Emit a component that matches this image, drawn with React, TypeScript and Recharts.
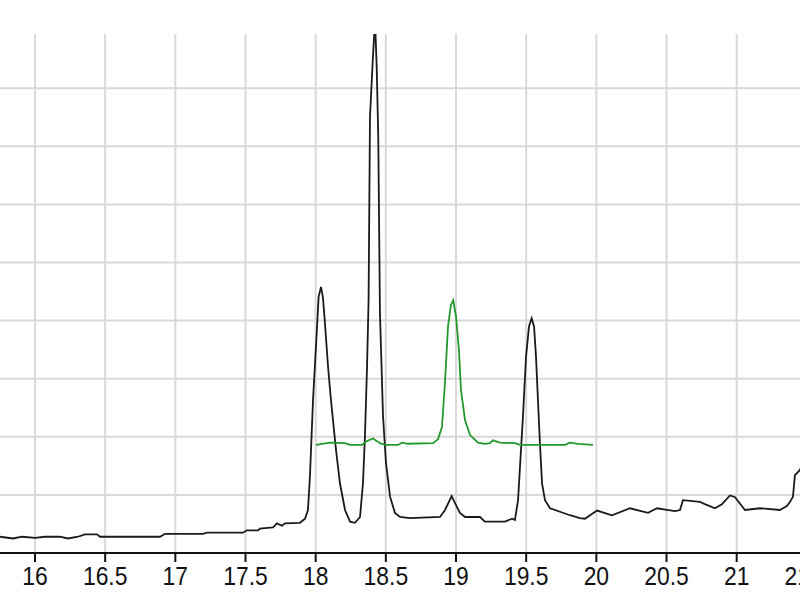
import React from "react";
import { LineChart, Line, XAxis, YAxis, CartesianGrid } from "recharts";

// Retention time (min) and signal for the black trace
const blackTime = [
  15.751, 15.843, 15.907, 16.0, 16.071, 16.178, 16.235, 16.306, 16.356, 16.442,
  16.463, 16.891, 16.926, 17.197, 17.226, 17.482, 17.51, 17.589, 17.603, 17.696,
  17.724, 17.76, 17.781, 17.888, 17.924, 17.945, 17.959, 17.981, 18.002, 18.021,
  18.038, 18.052, 18.066, 18.088, 18.109, 18.145, 18.173, 18.209, 18.245, 18.28,
  18.316, 18.337, 18.351, 18.366, 18.377, 18.387, 18.406, 18.423, 18.435, 18.446,
  18.458, 18.48, 18.501, 18.53, 18.565, 18.601, 18.672, 18.886, 18.922, 18.969,
  18.993, 19.028, 19.064, 19.171, 19.206, 19.349, 19.399, 19.42, 19.442, 19.456,
  19.477, 19.499, 19.52, 19.539, 19.556, 19.57, 19.584, 19.598, 19.613, 19.634,
  19.67, 19.741, 19.812, 19.883, 19.919, 19.955, 20.005, 20.111, 20.24, 20.368,
  20.432, 20.56, 20.596, 20.617, 20.739, 20.774, 20.845, 20.895, 20.952, 20.988,
  21.059, 21.166, 21.308, 21.358, 21.38, 21.401, 21.415, 21.451, 21.522,
];
const blackSignal = [
  0.28, 0.25, 0.28, 0.26, 0.28, 0.28, 0.25, 0.28, 0.32, 0.32,
  0.28, 0.28, 0.33, 0.33, 0.35, 0.35, 0.39, 0.39, 0.42, 0.44,
  0.51, 0.47, 0.51, 0.52, 0.59, 0.74, 1.31, 2.63, 3.55, 4.41,
  4.58, 4.39, 3.96, 3.21, 2.63, 1.77, 1.2, 0.74, 0.54, 0.52,
  0.62, 1.2, 2.0, 3.21, 4.35, 7.5, 8.45, 9.17, 8.35, 7.16,
  4.13, 2.35, 1.55, 0.97, 0.69, 0.62, 0.6, 0.62, 0.74, 0.98,
  0.86, 0.69, 0.62, 0.62, 0.54, 0.54, 0.59, 0.57, 0.91, 1.49,
  2.35, 3.38, 3.9, 4.04, 3.9, 3.38, 2.63, 1.89, 1.2, 0.91,
  0.77, 0.71, 0.65, 0.6, 0.59, 0.65, 0.73, 0.65, 0.77, 0.69,
  0.77, 0.72, 0.74, 0.91, 0.88, 0.84, 0.77, 0.84, 0.99, 0.96,
  0.74, 0.77, 0.74, 0.81, 0.88, 0.97, 1.34, 1.43, 1.9,
];

// Green trace
const greenTime = [
  18.002, 18.102, 18.209, 18.245, 18.33, 18.359, 18.408, 18.458, 18.494, 18.587,
  18.615, 18.658, 18.836, 18.872, 18.9, 18.921, 18.943, 18.964, 18.98, 19.0,
  19.021, 19.035, 19.064, 19.1, 19.157, 19.206, 19.242, 19.263, 19.313, 19.42,
  19.456, 19.777, 19.812, 19.869, 19.976,
];
const greenSignal = [
  1.86, 1.9, 1.89, 1.86, 1.86, 1.92, 1.97, 1.89, 1.86, 1.86,
  1.9, 1.88, 1.89, 1.96, 2.17, 2.92, 3.9, 4.27, 4.35, 4.07,
  3.49, 2.81, 2.29, 2.03, 1.9, 1.88, 1.89, 1.94, 1.9, 1.89,
  1.86, 1.86, 1.9, 1.88, 1.86,
];

const xTicks = [16, 16.5, 17, 17.5, 18, 18.5, 19, 19.5, 20, 20.5, 21, 21.5, 22];
const yTicks = [0, 1, 2, 3, 4, 5, 6, 7, 8];
const xDomain: [number, number] = [15.7506, 22.1637];
const yDomain: [number, number] = [0, 8.933];

const blackData = blackTime.map((t, i) => ({ t, v: blackSignal[i] }));
const greenData = greenTime.map((t, i) => ({ t, v: greenSignal[i] }));

const Tick = (props: any) => {
  const { x, y, payload } = props;
  return (
    <g transform={`translate(${x},${y})`}>
      <text
        x={0}
        y={0}
        dy={19}
        textAnchor="middle"
        transform="scale(0.88,1)"
        fontFamily="'Liberation Sans', Arial, sans-serif"
        fontSize={26}
        fill="#111"
      >
        {String(payload.value)}
      </text>
    </g>
  );
};

export default function App() {
  return (
    <div
      style={{
        position: "absolute",
        left: 0,
        top: 0,
        width: 800,
        height: 600,
        overflow: "hidden",
        background: "#fff",
      }}
    >
      <LineChart
        width={900}
        height={600}
        margin={{ top: 34, right: 0, bottom: 0, left: 0 }}
      >
        <CartesianGrid stroke="#d9d9d9" strokeWidth={2} syncWithTicks />
        <XAxis
          dataKey="t"
          type="number"
          domain={xDomain}
          ticks={xTicks}
          allowDataOverflow
          height={47}
          tickSize={9}
          tickMargin={4}
          axisLine={{ stroke: "#111", strokeWidth: 2 }}
          tickLine={{ stroke: "#111", strokeWidth: 2 }}
          tick={<Tick />}
          interval={0}
        />
        <YAxis
          hide
          type="number"
          domain={yDomain}
          ticks={yTicks}
          allowDataOverflow
        />
        <Line
          data={blackData}
          dataKey="v"
          type="linear"
          stroke="#1a1a1a"
          strokeWidth={1.8}
          dot={false}
          isAnimationActive={false}
        />
        <Line
          data={greenData}
          dataKey="v"
          type="linear"
          stroke="#22992a"
          strokeWidth={1.8}
          dot={false}
          isAnimationActive={false}
        />
      </LineChart>
    </div>
  );
}
